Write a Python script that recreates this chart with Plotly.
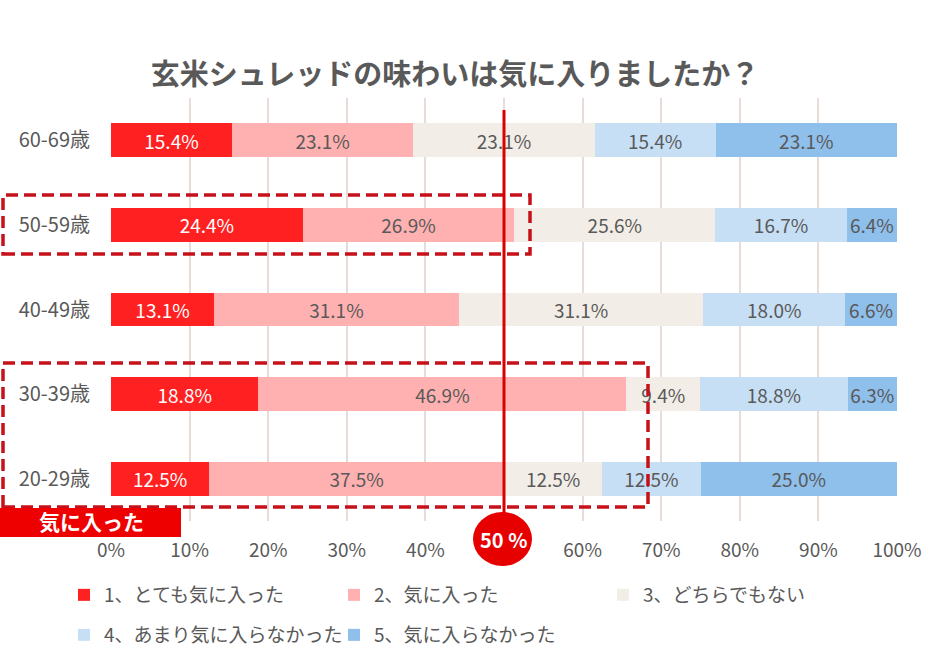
import plotly.graph_objects as go

categories = ["60-69歳", "50-59歳", "40-49歳", "30-39歳", "20-29歳"]
series_names = ["1、とても気に入った", "2、気に入った", "3、どちらでもない",
                "4、あまり気に入らなかった", "5、気に入らなかった"]
s1 = [15.4, 24.4, 13.1, 18.8, 12.5]
s2 = [23.1, 26.9, 31.1, 46.9, 37.5]
s3 = [23.1, 25.6, 31.1, 9.4, 12.5]
s4 = [15.4, 16.7, 18.0, 18.8, 12.5]
s5 = [23.1, 6.4, 6.6, 6.3, 25.0]
x_tick_vals = [0, 10, 20, 30, 40, 50, 60, 70, 80, 90, 100]
x_tick_text = ["0%", "10%", "20%", "30%", "40%", "", "60%", "70%", "80%", "90%", "100%"]

colors = ["#ff2121", "#ffb1b1", "#f2eee7", "#c7dff5", "#8fbfeb"]
text_colors = ["#ffffff", "#595959", "#595959", "#595959", "#595959"]

W, H = 947, 666
L, R, T, B = 111, 50, 98, 145
PW, PH = W - L - R, H - T - B

def px(x):
    return (x - L) / PW

def py(y):
    return (H - B - y) / PH

FONT = "Noto Sans CJK JP"
# legend icon centres (pixels)
legend_pos = [(85, 595), (355, 595), (624, 595), (85, 635), (355, 635)]
legend_ids = ["legend", "legend2", "legend3", "legend4", "legend5"]

fig = go.Figure()
for name, vals, c, tc, lid in zip(series_names, [s1, s2, s3, s4, s5], colors, text_colors, legend_ids):
    fig.add_trace(go.Bar(
        y=categories, x=vals, name=name, orientation="h",
        marker=dict(color=c, line=dict(width=0)),
        width=0.40,
        text=[f"{v:.1f}%" for v in vals],
        textposition="inside", insidetextanchor="middle", textangle=0,
        textfont=dict(color=tc, size=19, family=FONT),
        hoverinfo="skip", legend=lid,
    ))

legend_layout = {}
for lid, (lx, ly) in zip(legend_ids, legend_pos):
    legend_layout[lid] = dict(
        xref="container", yref="container",
        x=(lx - 21) / W, y=1 - ly / H, xanchor="left", yanchor="middle",
        font=dict(size=19, color="#595959", family=FONT),
        itemwidth=30, bgcolor="rgba(0,0,0,0)", borderwidth=0,
    )

fig.update_layout(
    width=W, height=H,
    margin=dict(l=L, r=R, t=T, b=B, autoexpand=False),
    barmode="stack", barnorm="percent",
    paper_bgcolor="white", plot_bgcolor="white",
    font=dict(family=FONT, color="#595959", size=18),
    uniformtext=dict(minsize=19, mode="show"),
    title=dict(text="<b>玄米シュレッドの味わいは気に入りましたか？</b>",
               x=455 / W, xanchor="center", xref="container",
               y=1 - 75 / H, yanchor="middle", yref="container",
               font=dict(size=29, color="#595959", family=FONT)),
    xaxis=dict(range=[0, 100], tickvals=x_tick_vals, ticktext=x_tick_text,
               showgrid=True, gridcolor="#e8dcd8", gridwidth=2,
               zeroline=False, showline=False, ticks="",
               ticklabelstandoff=16, automargin=False,
               tickfont=dict(size=19, color="#595959", family=FONT)),
    yaxis=dict(autorange="reversed", showgrid=False, zeroline=False,
               showline=False, ticks="", ticklabelstandoff=20, automargin=False,
               tickfont=dict(size=20, color="#595959", family=FONT)),
    showlegend=True,
    **legend_layout,
)

# dashed highlight boxes
for (x0, y0, x1, y1) in [(3, 195, 530, 254), (3, 363, 648, 507)]:
    fig.add_shape(type="rect", xref="paper", yref="paper",
                  x0=px(x0), x1=px(x1), y0=py(y1), y1=py(y0),
                  line=dict(color="#c8101a", width=3.5, dash="12px,6px"),
                  fillcolor="rgba(0,0,0,0)", layer="above")

# 50% line
fig.add_shape(type="line", xref="x", yref="paper", x0=50, x1=50,
              y0=py(520), y1=py(110),
              line=dict(color="#d90000", width=3), layer="above")
# 50% circle
fig.add_shape(type="circle", xref="paper", yref="paper",
              x0=px(473), x1=px(532), y0=py(566), y1=py(512),
              fillcolor="#e60000", line=dict(width=0), layer="above")
fig.add_annotation(xref="paper", yref="paper", x=px(503), y=py(539),
                   xanchor="center", yanchor="middle",
                   text="<b>50 %</b>", showarrow=False,
                   font=dict(color="white", size=20, family=FONT))

# 気に入った label
fig.add_shape(type="rect", xref="paper", yref="paper",
              x0=px(0), x1=px(181), y0=py(537), y1=py(508),
              fillcolor="#ee0000", line=dict(width=0), layer="above")
fig.add_annotation(xref="paper", yref="paper", x=px(91), y=py(521),
                   xanchor="center", yanchor="middle",
                   text="<b>気に入った</b>", showarrow=False,
                   font=dict(color="white", size=21, family=FONT))

fig.write_html("out.html", config={"displayModeBar": False},
               post_script="document.body.style.margin='0px';document.body.style.overflow='hidden';")
